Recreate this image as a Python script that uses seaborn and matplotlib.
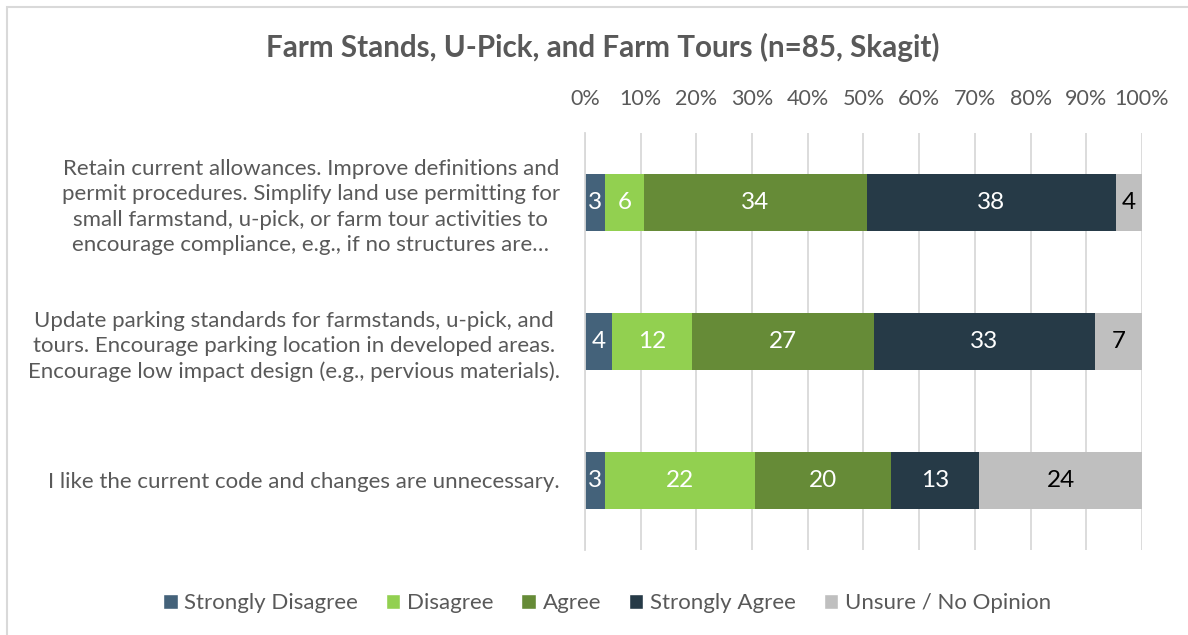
import pandas as pd
import seaborn as sns
import matplotlib.pyplot as plt
from matplotlib.patches import Patch, Rectangle

# Survey items (row labels as shown, wrapped the way the chart wraps them)
questions = [
    "Retain current allowances. Improve definitions and\n"
    "permit procedures. Simplify land use permitting for\n"
    "small farmstand, u-pick, or farm tour activities to\n"
    "encourage compliance, e.g., if no structures are\u2026",
    "Update parking standards for farmstands, u-pick, and\n"
    "tours. Encourage parking location in developed areas.\n"
    "Encourage low impact design (e.g., pervious materials).",
    "I like the current code and changes are unnecessary.",
]
responses = ["Strongly Disagree", "Disagree", "Agree", "Strongly Agree", "Unsure / No Opinion"]

# Response counts per item
strongly_disagree = [3, 4, 3]
disagree = [6, 12, 22]
agree = [34, 27, 20]
strongly_agree = [38, 33, 13]
unsure = [4, 7, 24]

ticks = list(range(0, 101, 10))
tick_labels = [f"{t}%" for t in ticks]

colors = ["#44627a", "#92d050", "#668b37", "#263a47", "#bfbfbf"]
label_colors = ["white", "white", "white", "white", "black"]
grey_text = "#595959"

counts = pd.DataFrame(
    dict(zip(responses, [strongly_disagree, disagree, agree, strongly_agree, unsure])),
    index=questions,
)
pct = counts.div(counts.sum(axis=1), axis=0) * 100
cum = pct.cumsum(axis=1)

sns.set_style("white")
plt.rcParams["font.family"] = ["Lato", "DejaVu Sans"]

fig = plt.figure(figsize=(11.88, 6.35), dpi=100)
ax = fig.add_axes([0.4924, 0.1339, 0.4689, 0.6567])

# stacked bars: draw cumulative totals back to front
for resp, col in reversed(list(zip(responses, colors))):
    df = pd.DataFrame({"question": questions, "pct": cum[resp].values})
    sns.barplot(data=df, x="pct", y="question", color=col, saturation=1,
                width=0.41, errorbar=None, linewidth=0, ax=ax, orient="h")

# count labels in the middle of each segment
for i, q in enumerate(questions):
    for resp, tc in zip(responses, label_colors):
        mid = cum.loc[q, resp] - pct.loc[q, resp] / 2
        ax.text(mid, i, str(counts.loc[q, resp]), ha="center", va="center",
                color=tc, fontsize=17.5)

ax.set_xlim(0, 100)
ax.set_ylim(2.5, -0.5)
ax.set_xticks(ticks)
ax.set_xticklabels(tick_labels)
ax.xaxis.tick_top()
ax.set_xlabel("")
ax.set_ylabel("")
ax.grid(axis="x", color="#d9d9d9", linewidth=1.3)
ax.set_axisbelow(True)
for s in ["top", "right", "bottom"]:
    ax.spines[s].set_visible(False)
ax.spines["left"].set_color("#d9d9d9")
ax.spines["left"].set_linewidth(1.3)
ax.tick_params(axis="x", length=0, pad=17, labelsize=15.5, labelcolor=grey_text)
ax.tick_params(axis="y", length=0, pad=18, labelsize=16, labelcolor=grey_text)
for t in ax.get_yticklabels():
    t.set_multialignment("center")
    t.set_linespacing(1.32)

fig.text(0.507, 1 - 47 / 635, "Farm Stands, U-Pick, and Farm Tours (n=85, Skagit)",
         ha="center", va="center", fontsize=21.3, fontweight="bold", color=grey_text)

handles = [Patch(facecolor=c, label=r) for r, c in zip(responses, colors)]
fig.legend(handles=handles, loc="center", bbox_to_anchor=(607 / 1188, 1 - 603 / 635),
           ncol=5, frameon=False, fontsize=16, handlelength=0.65, handleheight=0.65,
           handletextpad=0.3, columnspacing=1.25, labelcolor=grey_text)

# chart area border
fig.patches.append(Rectangle((7 / 1188, -0.1), 1.2, 1.1 - 7 / 635,
                             transform=fig.transFigure, fill=False,
                             edgecolor="#d9d9d9", linewidth=1.5))

fig.savefig("out.png", dpi=100)
